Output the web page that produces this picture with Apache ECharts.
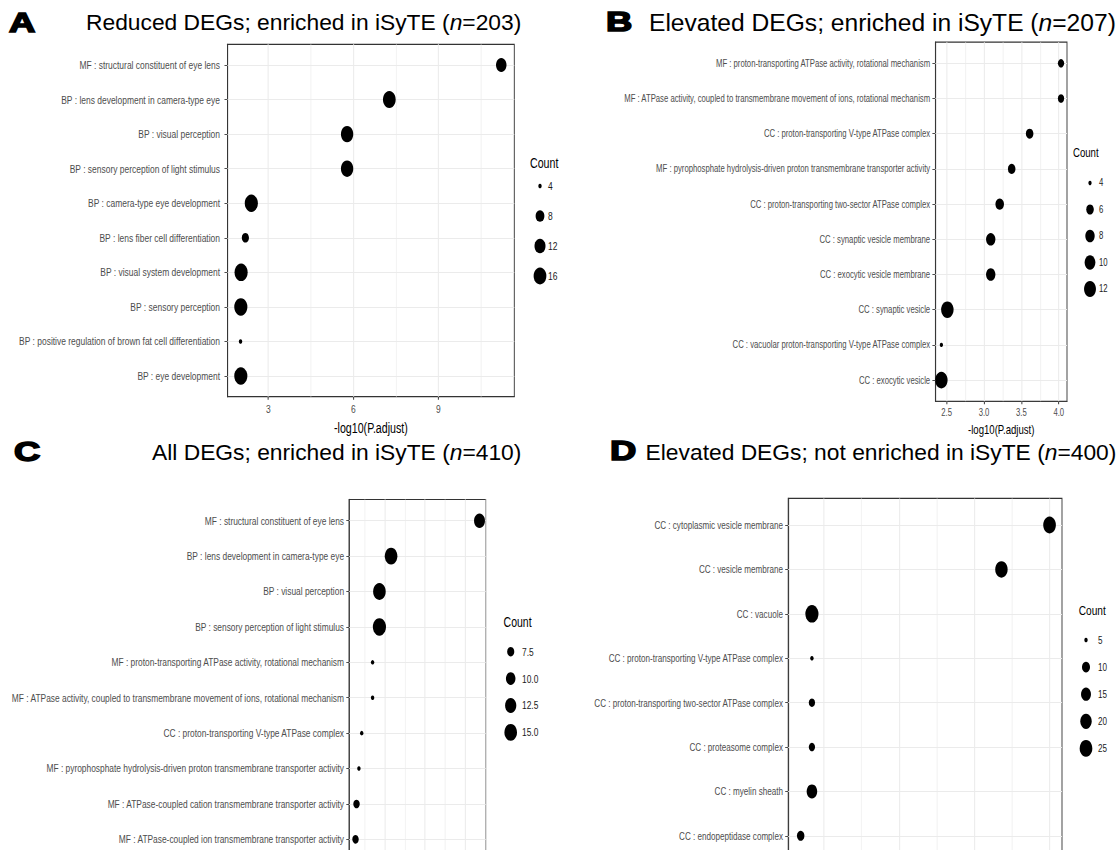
<!DOCTYPE html>
<html>
<head>
<meta charset="utf-8">
<script src="https://cdn.jsdelivr.net/npm/echarts@6/dist/echarts.min.js"></script>
<style>
  html, body { margin: 0; padding: 0; background: #fff; overflow: hidden; width: 1119px; height: 850px; }
  /* the dot-plot panels are laid out on a wider canvas and squeezed horizontally */
  #plots { position: absolute; left: 0; top: 0; width: 1492px; height: 960px; transform: scaleX(0.75); transform-origin: 0 0; }
  #heads { position: absolute; left: 0; top: 0; width: 1119px; height: 850px; pointer-events: none; }
</style>
</head>
<body>
<div id="plots"></div>
<div id="heads"></div>
<script>
// ---------- A: reduced DEGs enriched in iSyTE ----------
const termsA = [
  'MF : structural constituent of eye lens',
  'BP : lens development in camera-type eye',
  'BP : visual perception',
  'BP : sensory perception of light stimulus',
  'BP : camera-type eye development',
  'BP : lens fiber cell differentiation',
  'BP : visual system development',
  'BP : sensory perception',
  'BP : positive regulation of brown fat cell differentiation',
  'BP : eye development'
];
const valuesA = [11.22, 7.27, 5.78, 5.78, 2.40, 2.19, 2.04, 2.03, 2.02, 2.03];
const countsA = [11, 16, 15, 15, 17, 6, 17, 17, 4, 17];
const ticksA = [3, 6, 9];
const minorsA = [4.5, 7.5, 10.5];
const breaksA = [4, 8, 12, 16];

// ---------- B: elevated DEGs enriched in iSyTE ----------
const termsB = [
  'MF : proton-transporting ATPase activity, rotational mechanism',
  'MF : ATPase activity, coupled to transmembrane movement of ions, rotational mechanism',
  'CC : proton-transporting V-type ATPase complex',
  'MF : pyrophosphate hydrolysis-driven proton transmembrane transporter activity',
  'CC : proton-transporting two-sector ATPase complex',
  'CC : synaptic vesicle membrane',
  'CC : exocytic vesicle membrane',
  'CC : synaptic vesicle',
  'CC : vacuolar proton-transporting V-type ATPase complex',
  'CC : exocytic vesicle'
];
const valuesB = [4.03, 4.03, 3.61, 3.37, 3.21, 3.09, 3.09, 2.51, 2.43, 2.43];
const countsB = [5, 5, 6, 6, 7, 8, 8, 13, 4, 13];
const ticksB = [2.5, 3.0, 3.5, 4.0];
const minorsB = [2.75, 3.25, 3.75];
const breaksB = [4, 6, 8, 10, 12];

// ---------- C: all DEGs enriched in iSyTE ----------
const termsC = [
  'MF : structural constituent of eye lens',
  'BP : lens development in camera-type eye',
  'BP : visual perception',
  'BP : sensory perception of light stimulus',
  'MF : proton-transporting ATPase activity, rotational mechanism',
  'MF : ATPase activity, coupled to transmembrane movement of ions, rotational mechanism',
  'CC : proton-transporting V-type ATPase complex',
  'MF : pyrophosphate hydrolysis-driven proton transmembrane transporter activity',
  'MF : ATPase-coupled cation transmembrane transporter activity',
  'MF : ATPase-coupled ion transmembrane transporter activity'
];
const valuesC = [8.71, 4.31, 3.73, 3.73, 3.39, 3.39, 2.85, 2.71, 2.59, 2.54];
const countsC = [12, 15, 15, 16, 6, 6, 6, 6, 7, 7];
const ticksC = [4, 6, 8];
const minorsC = [3, 5, 7, 9];
const breaksC = [7.5, 10, 12.5, 15];

// ---------- D: elevated DEGs not enriched in iSyTE ----------
const termsD = [
  'CC : cytoplasmic vesicle membrane',
  'CC : vesicle membrane',
  'CC : vacuole',
  'CC : proton-transporting V-type ATPase complex',
  'CC : proton-transporting two-sector ATPase complex',
  'CC : proteasome complex',
  'CC : myelin sheath',
  'CC : endopeptidase complex'
];
const valuesD = [8.00, 6.72, 1.68, 1.68, 1.68, 1.68, 1.68, 1.38];
const countsD = [25, 24, 27, 5, 7, 7, 17, 9];
const ticksD = [2, 4, 6, 8];
const minorsD = [3, 5, 7];
const breaksD = [5, 10, 15, 20, 25];

// ---------- layout ----------
const SX = 0.75;                 // horizontal squeeze of the plot canvas
const X = x => x / SX;           // page x -> plot-canvas x
const FONT = "'Liberation Sans', Arial, Helvetica, sans-serif";
const GRID_COL = '#EBEBEB';
const INK = '#333333';

// the lower two panels run past the bottom of the page, so their x-axis text is not drawn
const panels = [
  { terms: termsA, values: valuesA, counts: countsA, ticks: ticksA, minors: minorsA, breaks: breaksA, digits: 0,
    box: { l: 227.5, r: 514.3, t: 44.3, row: 34.55 }, font: 11.3, nameFont: 14.2, yMargin: 10, xMargin: 7, nameGap: 25,
    legend: { tx: 530, ty: 163, kx: 540, lx: 548, y0: 186, band: 30 }, k: 2.6, xText: true },
  { terms: termsB, values: valuesB, counts: countsB, ticks: ticksB, minors: minorsB, breaks: breaksB, digits: 0, tickDigits: 1,
    box: { l: 935.4, r: 1067, t: 42.2, row: 35.2 }, font: 10.3, nameFont: 12.8, yMargin: 7, xMargin: 6, nameGap: 22,
    legend: { tx: 1073, ty: 152, kx: 1090, lx: 1099, y0: 183, band: 26.5 }, k: 2.45, xText: true },
  { terms: termsC, values: valuesC, counts: countsC, ticks: ticksC, minors: minorsC, breaks: breaksC, digits: 1,
    box: { l: 349.3, r: 485.7, t: 499.5, row: 35.4 }, font: 11.2, nameFont: 14, yMargin: 7, xMargin: 7, nameGap: 25,
    legend: { tx: 503.6, ty: 622.7, kx: 510.7, lx: 522, y0: 651.7, band: 26.9 }, k: 2.6, xText: false },
  { terms: termsD, values: valuesD, counts: countsD, ticks: ticksD, minors: minorsD, breaks: breaksD, digits: 0,
    box: { l: 788.2, r: 1062, t: 498.4, row: 44.4 }, font: 10.8, nameFont: 13.5, yMargin: 7, xMargin: 7, nameGap: 25,
    legend: { tx: 1078.7, ty: 610, kx: 1086, lx: 1098, y0: 640, band: 27.1 }, k: 2.6, xText: false }
];

// point diameter: area-style size scale over the panel's count range
function sizeScale(counts, k) {
  const lo = Math.min(...counts), hi = Math.max(...counts);
  return c => {
    const t = Math.max(0, Math.min(1, (c - lo) / (hi - lo)));
    return k * (1 + 5 * Math.sqrt(t)) + 1.9;
  };
}

const grid = [], xAxis = [], yAxis = [], series = [], graphic = [];

panels.forEach((p, i) => {
  const n = p.terms.length;
  const size = sizeScale(p.counts, p.k);
  const lo = Math.min(...p.values), hi = Math.max(...p.values);
  const pad = (hi - lo) * 0.05;
  const xmin = lo - pad, xmax = hi + pad;
  const rows = p.terms.map((_, j) => j + 1);
  const gi = grid.length;

  // plotting panel
  grid.push({
    left: X(p.box.l), top: p.box.t,
    width: X(p.box.r) - X(p.box.l), height: (n - 1 + 1.2) * p.box.row,
    outerBoundsMode: 'none', containLabel: false,
    show: true, backgroundColor: '#fff', borderColor: INK, borderWidth: 1.2
  });
  xAxis.push({
    gridIndex: gi, type: 'value', min: xmin, max: xmax,
    axisLine: { show: true, onZero: false, lineStyle: { color: INK, width: 1 } },
    axisTick: { show: p.xText, customValues: p.ticks, length: 3, lineStyle: { color: INK, width: 1.3 } },
    axisLabel: {
      show: p.xText, customValues: p.ticks, margin: p.xMargin, color: '#4D4D4D', fontSize: p.font, fontFamily: FONT,
      formatter: v => (p.tickDigits ? Number(v).toFixed(p.tickDigits) : String(v))
    },
    splitLine: { show: false },
    name: p.xText ? '-log10(P.adjust)' : '', nameLocation: 'middle', nameGap: p.nameGap,
    nameTextStyle: { color: '#000', fontSize: p.nameFont, fontFamily: FONT }
  });
  yAxis.push({
    gridIndex: gi, type: 'value', inverse: true, min: 0.4, max: n + 0.6,
    axisLine: { show: true, onZero: false, lineStyle: { color: INK, width: 1.3 } },
    axisTick: { show: true, customValues: rows, length: 4, lineStyle: { color: INK, width: 1 } },
    axisLabel: {
      customValues: rows, margin: p.yMargin, color: '#4D4D4D', fontSize: p.font, fontFamily: FONT,
      formatter: v => p.terms[Math.round(v) - 1] || ''
    },
    splitLine: { show: false }
  });

  // background grid lines
  const vLines = [];
  p.ticks.forEach(v => { if (v > xmin && v < xmax) vLines.push({ xAxis: v, lineStyle: { color: GRID_COL, width: 1.4, type: 'solid' } }); });
  p.minors.forEach(v => { if (v > xmin && v < xmax) vLines.push({ xAxis: v, lineStyle: { color: GRID_COL, width: 0.75, type: 'solid' } }); });
  const hLines = rows.map(r => ({ yAxis: r, lineStyle: { color: GRID_COL, width: 1.05, type: 'solid' } }));
  series.push({
    type: 'scatter', xAxisIndex: gi, yAxisIndex: gi, z: 1, silent: true,
    symbolSize: 0, itemStyle: { opacity: 0 },
    data: p.values.map((v, j) => [v, j + 1]),
    markLine: { z: 1, silent: true, symbol: ['none', 'none'], label: { show: false }, animation: false, data: vLines.concat(hLines) }
  });

  // enrichment dots
  series.push({
    type: 'scatter', xAxisIndex: gi, yAxisIndex: gi, z: 10, silent: true,
    symbol: 'circle',
    data: p.values.map((v, j) => [v, j + 1, p.counts[j]]),
    symbolSize: d => size(d[2]),
    itemStyle: { color: '#000', opacity: 1 }
  });

  // size legend
  const L = p.legend;
  const li = grid.length;
  const labels = p.breaks.map(b => b.toFixed(p.digits));
  grid.push({ left: X(L.kx) - 1, width: 2, top: L.y0 - L.band / 2, height: L.band * p.breaks.length, outerBoundsMode: 'none' });
  xAxis.push({ gridIndex: li, type: 'value', min: -1, max: 1, show: false });
  yAxis.push({
    gridIndex: li, type: 'category', data: labels, inverse: true, position: 'right',
    axisLine: { show: false }, axisTick: { show: false }, splitLine: { show: false },
    axisLabel: { margin: X(L.lx) - X(L.kx) - 1, color: '#1A1A1A', fontSize: p.font, fontFamily: FONT }
  });
  series.push({
    type: 'scatter', xAxisIndex: li, yAxisIndex: li, z: 10, silent: true, symbol: 'circle',
    data: p.breaks.map((b, j) => [0, labels[j], b]),
    symbolSize: d => size(d[2]),
    itemStyle: { color: '#000', opacity: 1 }
  });
  graphic.push({
    type: 'text', x: X(L.tx), y: L.ty, silent: true,
    style: { text: 'Count', fontSize: p.nameFont, fontFamily: FONT, fill: '#000', verticalAlign: 'middle', align: 'left' }
  });
});

const plots = echarts.init(document.getElementById('plots'), null, { renderer: 'svg' });
plots.setOption({ animation: false, backgroundColor: '#fff', grid, xAxis, yAxis, series, graphic });

// ---------- panel letters and titles ----------
const heads = [
  { letter: 'A', lx: 9, ly: 23, title: 'Reduced DEGs; enriched in iSyTE (', n: '=203)', tx: 86, ty: 22, size: 22.8 },
  { letter: 'B', lx: 606, ly: 22, title: 'Elevated DEGs; enriched in iSyTE (', n: '=207)', tx: 649, ty: 22, size: 24.6 },
  { letter: 'C', lx: 14, ly: 452, title: 'All DEGs; enriched in iSyTE (', n: '=410)', tx: 152, ty: 452, size: 22.8 },
  { letter: 'D', lx: 610, ly: 451, title: 'Elevated DEGs; not enriched in iSyTE (', n: '=400)', tx: 645.6, ty: 452, size: 22.8 }
];
const headGraphic = [];
heads.forEach(h => {
  headGraphic.push({
    type: 'text', x: h.lx, y: h.ly, scaleX: 1.3, silent: true,
    style: { text: h.letter, fontSize: 28, fontWeight: 'bold', fontFamily: FONT, fill: '#000',
             stroke: '#000', lineWidth: 1.6, verticalAlign: 'middle', align: 'left' }
  });
  headGraphic.push({
    type: 'text', x: h.tx, y: h.ty, silent: true,
    style: {
      text: h.title + '{i|n}' + h.n, fontSize: h.size, fontFamily: FONT, fill: '#000',
      verticalAlign: 'middle', align: 'left',
      rich: { i: { fontStyle: 'italic', fontSize: h.size, fontFamily: FONT, fill: '#000' } }
    }
  });
});
const headChart = echarts.init(document.getElementById('heads'), null, { renderer: 'svg' });
headChart.setOption({ animation: false, backgroundColor: 'transparent', graphic: headGraphic });
</script>
</body>
</html>
